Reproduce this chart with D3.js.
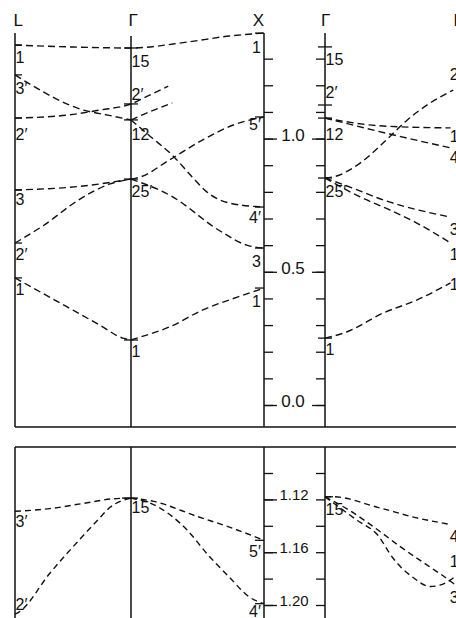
<!DOCTYPE html>
<html>
<head>
<meta charset="utf-8">
<script src="https://cdn.jsdelivr.net/npm/d3@7"></script>
<style>
  body { margin: 0; background: #fff; }
  svg { display: block; }
  text { font-family: 'Liberation Sans', Arial, sans-serif; fill: #111; }
</style>
</head>
<body>
<svg width="456" height="618"></svg>
<script>
// symmetry points along the k path
const pointNames = ['L', 'Γ', 'X', 'Γ', 'K']
const pointK = [0, 1, 2, 3, 4]

// energy ticks
const topTicks = [0, 0.1, 0.2, 0.3, 0.4, 0.5, 0.6, 0.7, 0.8, 0.9, 1.0, 1.1, 1.2, 1.3]
const topTickLabels = [0.0, 0.5, 1.0]
const botTicks = [1.10, 1.12, 1.14, 1.16, 1.18, 1.20]
const botTickLabels = [1.12, 1.16, 1.20]

// levels at the symmetry points (top panel)
const levelsL = [1.351, 1.239, 1.077, 0.807, 0.608, 0.477]
const levelsG = [1.340, 1.130, 1.070, 0.848, 0.244]
const levelsX = [1.396, 1.081, 0.743, 0.589, 0.439]
const levelsG2 = [1.344, 1.126, 1.077, 0.852, 0.251]
// levels at the symmetry points (bottom panel)
const botLevelsG = [1.119]
const botLevelsX = [1.151, 1.199]
const botLevelsG2 = [1.118]

// bands, [k, energy]
const bandL1 = [[0, 1.351], [0.47, 1.344], [1, 1.340], [1.42, 1.362], [1.74, 1.385], [2, 1.396]]
const bandL3p = [[0, 1.239], [0.1, 1.212], [0.59, 1.107], [0.8, 1.088], [1, 1.070]]
const bandL2p = [[0, 1.077], [0.45, 1.088], [0.73, 1.107], [1, 1.130], [1.14, 1.163], [1.28, 1.197]]
const bandG12a = [[1, 1.070], [1.1, 1.092], [1.31, 1.134]]
const bandG12b = [[1, 1.070], [1.15, 1.006], [1.31, 0.938], [1.46, 0.856], [1.57, 0.800], [1.74, 0.758], [2, 0.743]]
const bandL3 = [[0, 0.807], [0.59, 0.822], [1, 0.848]]
const bandL2pLow = [[0, 0.608], [0.24, 0.672], [0.56, 0.773], [0.82, 0.830], [1, 0.848]]
const bandG25a = [[1, 0.848], [1.07, 0.856], [1.29, 0.920], [1.54, 0.995], [1.77, 1.051], [2, 1.081]]
const bandG25b = [[1, 0.848], [1.3, 0.785], [1.67, 0.653], [1.87, 0.600], [2, 0.589]]
const bandL1Low = [[0, 0.477], [0.45, 0.368], [0.73, 0.300], [0.93, 0.251], [1, 0.244]]
const bandG1 = [[1, 0.244], [1.07, 0.255], [1.29, 0.293], [1.54, 0.357], [1.8, 0.405], [2, 0.439]]
const bandS2 = [[3, 0.852], [3.06, 0.856], [3.26, 0.908], [3.43, 0.983], [3.61, 1.070], [3.78, 1.134], [3.95, 1.182]]
const bandS1a = [[3, 1.077], [3.43, 1.047], [3.93, 1.040]]
const bandS4 = [[3, 1.077], [3.48, 1.017], [3.93, 0.965]]
const bandS3 = [[3, 0.852], [3.2, 0.815], [3.43, 0.770], [3.93, 0.705]]
const bandS1b = [[3, 0.852], [3.26, 0.781], [3.48, 0.732], [3.68, 0.683], [3.93, 0.608]]
const bandS1c = [[3, 0.251], [3.16, 0.274], [3.43, 0.345], [3.68, 0.394], [3.93, 0.458]]

const botL3p = [[0, 1.129], [0.3, 1.127], [0.59, 1.123], [0.85, 1.1195], [1, 1.119]]
const botL2p = [[0, 1.207], [0.04, 1.205], [0.3, 1.176], [0.53, 1.153], [0.71, 1.136], [0.82, 1.126], [1, 1.119]]
const botX5p = [[1, 1.119], [1.17, 1.1215], [1.5, 1.133], [1.74, 1.141], [2, 1.151]]
const botX4p = [[1, 1.119], [1.17, 1.124], [1.42, 1.143], [1.57, 1.161], [1.74, 1.179], [1.89, 1.194], [2, 1.199]]
const botS4 = [[3, 1.118], [3.06, 1.118], [3.39, 1.126], [3.68, 1.134], [3.93, 1.139]]
const botS1 = [[3, 1.118], [3.16, 1.127], [3.39, 1.143], [3.56, 1.156], [3.76, 1.170], [3.93, 1.182], [3.98, 1.186]]
const botS3 = [[3, 1.118], [3.24, 1.136], [3.39, 1.147], [3.5, 1.164], [3.65, 1.179], [3.78, 1.186], [3.85, 1.185], [3.93, 1.181], [3.98, 1.177]]

const topBands = [bandL1, bandL3p, bandL2p, bandG12a, bandG12b, bandL3, bandL2pLow, bandG25a, bandG25b,
                  bandL1Low, bandG1, bandS2, bandS1a, bandS4, bandS3, bandS1b, bandS1c]
const botBands = [botL3p, botL2p, botX5p, botX4p, botS4, botS1, botS3]

// level labels, [k, energy of baseline, text]
const topLabelsLeft = [
  [0, 1.284, '1'], [0, 1.167, '3′'], [0, 0.995, '2′'], [0, 0.751, '3'], [0, 0.544, '2′'], [0, 0.413, '1'],
  [1, 1.269, '15'], [1, 1.145, '2′'], [1, 0.995, '12'], [1, 0.781, '25′'], [1, 0.180, '1'],
  [3, 1.276, '15'], [3, 1.152, '2′'], [3, 0.995, '12'], [3, 0.781, '25′'], [3, 0.188, '1'],
  [3.92, 1.220, '2'], [3.92, 0.987, '1'], [3.92, 0.908, '4'], [3.92, 0.638, '3'], [3.92, 0.544, '1'], [3.92, 0.432, '1']
]
const topLabelsX = [[2, 1.321, '1'], [2, 1.032, '5′'], [2, 0.683, '4′'], [2, 0.518, '3'], [2, 0.368, '1']]
const botLabelsLeft = [
  [0, 1.1409, '3′'], [0, 1.2038, '2′'], [1, 1.1303, '15'], [3, 1.1318, '15'],
  [3.92, 1.1523, '4'], [3.92, 1.1712, '1'], [3.92, 1.1985, '3']
]
const botLabelsX = [[2, 1.1636, '5′'], [2, 1.2091, '4′']]

const svg = d3.select('svg')
const width = +svg.attr('width')
const height = +svg.attr('height')

const x = d3.scaleLinear()
            .domain(pointK)
            .range([15, 131, 264, 325, 460])

const yTop = d3.scaleLinear()
               .domain([0, 1.4])
               .range([405, 32])

const yBot = d3.scaleLinear()
               .domain([1.10, 1.20])
               .range([473, 605])

const topPanel = { top: 33, bottom: 427 }
const botPanel = { top: 447, bottom: height + 2 }

// frames
const frame = svg.append('g')
                 .attr('stroke', '#111')
                 .attr('stroke-width', 1.5)
                 .attr('fill', 'none')

pointK.slice(0, 4).forEach((k, i) => {
  frame.append('line')
       .attr('x1', x(k)).attr('x2', x(k))
       .attr('y1', i === 1 ? topPanel.top + 3 : topPanel.top)
       .attr('y2', topPanel.bottom)
  frame.append('line')
       .attr('x1', x(k)).attr('x2', x(k))
       .attr('y1', botPanel.top)
       .attr('y2', botPanel.bottom)
})
frame.append('line')
     .attr('x1', x(0)).attr('x2', width)
     .attr('y1', topPanel.bottom).attr('y2', topPanel.bottom)
frame.append('line')
     .attr('x1', x(0)).attr('x2', width)
     .attr('y1', botPanel.top).attr('y2', botPanel.top)

// point names
svg.selectAll('.kname')
   .data(pointNames)
   .enter().append('text')
   .attr('class', 'kname')
   .attr('x', (d, i) => [x(0) - 1.5, x(1) - 2.5, x(2), x(3) - 4, width - 2.5][i])
   .attr('y', 26)
   .attr('text-anchor', (d, i) => i === 2 ? 'end' : 'start')
   .attr('font-size', 17)
   .text(d => d)

// energy axes between X and Γ
function styleAxis(g) {
  g.select('.domain').remove()
  g.selectAll('line').attr('stroke', '#111').attr('stroke-width', 1.3)
}

svg.append('g')
   .attr('transform', `translate(${x(2)},0)`)
   .call(d3.axisRight(yTop).tickValues(topTicks).tickSize(9).tickFormat(''))
   .call(styleAxis)
svg.append('g')
   .attr('transform', `translate(${x(3)},0)`)
   .call(d3.axisLeft(yTop).tickValues(topTicks).tickSize(9).tickFormat(''))
   .call(styleAxis)
svg.append('g')
   .attr('transform', `translate(${x(2)},0)`)
   .call(d3.axisRight(yTop).tickValues(topTickLabels).tickSize(13).tickFormat(d3.format('.1f')))
   .call(styleAxis)
   .call(g => g.selectAll('text')
               .attr('x', 29).attr('dy', '0.1em')
               .attr('text-anchor', 'middle')
               .attr('font-size', 17)
               .attr('font-family', null)
               .attr('fill', '#111'))
svg.append('g')
   .attr('transform', `translate(${x(3)},0)`)
   .call(d3.axisLeft(yTop).tickValues(topTickLabels).tickSize(13).tickFormat(''))
   .call(styleAxis)

svg.append('g')
   .attr('transform', `translate(${x(2)},0)`)
   .call(d3.axisRight(yBot).tickValues(botTicks).tickSize(9).tickFormat(''))
   .call(styleAxis)
svg.append('g')
   .attr('transform', `translate(${x(3)},0)`)
   .call(d3.axisLeft(yBot).tickValues(botTicks).tickSize(9).tickFormat(''))
   .call(styleAxis)
svg.append('g')
   .attr('transform', `translate(${x(2)},0)`)
   .call(d3.axisRight(yBot).tickValues(botTickLabels).tickSize(13).tickFormat(d3.format('.2f')))
   .call(styleAxis)
   .call(g => g.selectAll('text')
               .attr('x', 30).attr('dy', '0em')
               .attr('text-anchor', 'middle')
               .attr('font-size', 15)
               .attr('font-family', null)
               .attr('fill', '#111'))

// level ticks at symmetry points
function levelTicks(levels, y, k, left, right) {
  svg.append('g')
     .selectAll('line')
     .data(levels)
     .enter().append('line')
     .attr('stroke', '#111')
     .attr('stroke-width', 1.3)
     .attr('x1', x(k) - left)
     .attr('x2', x(k) + right)
     .attr('y1', d => y(d))
     .attr('y2', d => y(d))
}
levelTicks(levelsL, yTop, 0, 0, 7)
levelTicks(levelsG, yTop, 1, 7, 7)
levelTicks(levelsX, yTop, 2, 9, 0)
levelTicks(levelsG2, yTop, 3, 7, 7)
levelTicks(botLevelsG, yBot, 1, 9, 7)
levelTicks(botLevelsX, yBot, 2, 9, 0)
levelTicks(botLevelsG2, yBot, 3, 0, 8)

// bands
const lineTop = d3.line()
                  .x(d => x(d[0]))
                  .y(d => yTop(d[1]))
                  .curve(d3.curveMonotoneX)
const lineBot = d3.line()
                  .x(d => x(d[0]))
                  .y(d => yBot(d[1]))
                  .curve(d3.curveMonotoneX)

svg.selectAll('.band-top')
   .data(topBands)
   .enter().append('path')
   .attr('class', 'band-top')
   .attr('fill', 'none')
   .attr('stroke', '#111')
   .attr('stroke-width', 1.4)
   .attr('stroke-dasharray', '7,4')
   .attr('d', lineTop)

svg.selectAll('.band-bot')
   .data(botBands)
   .enter().append('path')
   .attr('class', 'band-bot')
   .attr('fill', 'none')
   .attr('stroke', '#111')
   .attr('stroke-width', 1.4)
   .attr('stroke-dasharray', '6,4')
   .attr('d', lineBot)

// labels
function labels(data, y, anchor, dx) {
  svg.append('g')
     .selectAll('text')
     .data(data)
     .enter().append('text')
     .attr('x', d => x(d[0]) + dx)
     .attr('y', d => y(d[1]))
     .attr('text-anchor', anchor)
     .attr('font-size', 16)
     .text(d => d[2])
}
labels(topLabelsLeft, yTop, 'start', 0.5)
labels(topLabelsX, yTop, 'end', -3)
labels(botLabelsLeft, yBot, 'start', 0.5)
labels(botLabelsX, yBot, 'end', -3)
</script>
</body>
</html>
